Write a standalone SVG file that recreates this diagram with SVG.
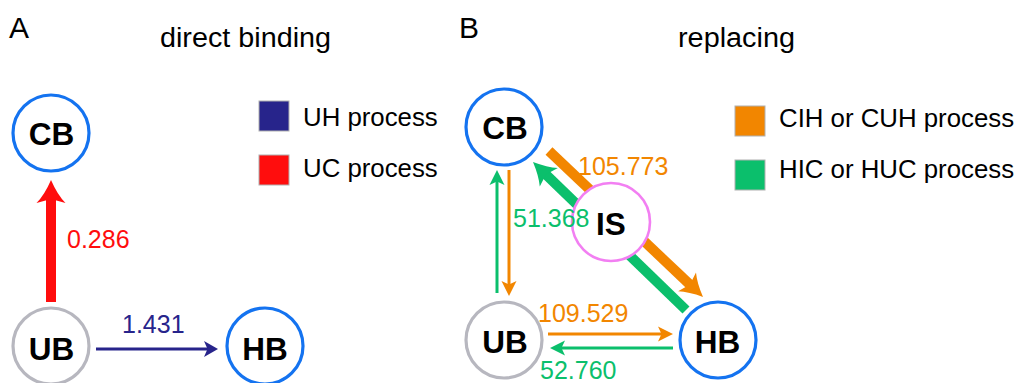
<svg xmlns="http://www.w3.org/2000/svg" width="1019" height="383" viewBox="0 0 1019 383">
<style>
text{font-family:"Liberation Sans",Arial,sans-serif;}
.title{font-size:27px;fill:#000;}
.panel{font-size:30px;fill:#000;}
.node{font-size:31.5px;font-weight:bold;fill:#000;text-anchor:middle;}
.num{font-size:25px;}
.leg{font-size:25.8px;fill:#000;}
.ring{fill:#fff;stroke-width:3.2;}
.blue{stroke:#1473f0;}
.grey{stroke:#b7b7bf;}
.pink{stroke:#f27ff2;stroke-width:2.6;}
.sw{stroke:#b0b0b0;stroke-width:1;}
line{fill:none;}
</style>
<defs>
<marker id="hRed" markerUnits="userSpaceOnUse" markerWidth="23" markerHeight="29" refX="6" refY="14.5" orient="auto" overflow="visible"><path d="M0,0 Q8,8 23,14.5 Q8,21 0,29 L4,14.5 Z" fill="#ff0d0d"/></marker>
<marker id="hNavy" markerUnits="userSpaceOnUse" markerWidth="14" markerHeight="16" refX="5" refY="8" orient="auto" overflow="visible"><path d="M0,0 L14,8 L0,16 L3.5,8 Z" fill="#27248b"/></marker>
<marker id="hOrT" markerUnits="userSpaceOnUse" markerWidth="15" markerHeight="15" refX="5" refY="7.5" orient="auto" overflow="visible"><path d="M0,0 L15,7.5 L0,15 L3.5,7.5 Z" fill="#f28600"/></marker>
<marker id="hGrT" markerUnits="userSpaceOnUse" markerWidth="15" markerHeight="15" refX="5" refY="7.5" orient="auto" overflow="visible"><path d="M0,0 L15,7.5 L0,15 L3.5,7.5 Z" fill="#0bbf6c"/></marker>
<marker id="hOrK" markerUnits="userSpaceOnUse" markerWidth="22" markerHeight="26" refX="6" refY="13" orient="auto" overflow="visible"><path d="M0,0 Q8,7 22,13 Q8,19 0,26 L4,13 Z" fill="#f28600"/></marker>
<marker id="hGrK" markerUnits="userSpaceOnUse" markerWidth="22" markerHeight="26" refX="6" refY="13" orient="auto" overflow="visible"><path d="M0,0 Q8,7 22,13 Q8,19 0,26 L4,13 Z" fill="#0bbf6c"/></marker>
</defs>

<text class="panel" x="9" y="38">A</text>
<text class="title" x="160" y="46.5" textLength="171" lengthAdjust="spacingAndGlyphs">direct binding</text>
<text class="panel" x="459" y="38">B</text>
<text class="title" x="678" y="46.5" textLength="117" lengthAdjust="spacingAndGlyphs">replacing</text>

<g id="connectors">
  <line x1="51" y1="302" x2="51" y2="197" stroke="#ff0d0d" stroke-width="10" marker-end="url(#hRed)"/>
  <line x1="96" y1="349" x2="209" y2="349" stroke="#27248b" stroke-width="3" marker-end="url(#hNavy)"/>
  <line x1="509" y1="170" x2="509" y2="286" stroke="#f28600" stroke-width="3" marker-end="url(#hOrT)"/>
  <line x1="497" y1="293" x2="497" y2="180" stroke="#0bbf6c" stroke-width="3" marker-end="url(#hGrT)"/>
  <line x1="548" y1="334" x2="663" y2="334" stroke="#f28600" stroke-width="3" marker-end="url(#hOrT)"/>
  <line x1="673" y1="348" x2="560" y2="348" stroke="#0bbf6c" stroke-width="3" marker-end="url(#hGrT)"/>
  <line x1="549" y1="151" x2="691.4" y2="286" stroke="#f28600" stroke-width="10" marker-end="url(#hOrK)"/>
  <line x1="686" y1="310" x2="544.5" y2="173.1" stroke="#0bbf6c" stroke-width="10" marker-end="url(#hGrK)"/>
</g>

<g id="CB_A"><circle class="ring blue" cx="51" cy="133" r="38"/><text class="node" x="51.5" y="145">CB</text></g>
<g id="UB_A"><circle class="ring grey" cx="51" cy="346" r="38"/><text class="node" x="51.5" y="360">UB</text></g>
<g id="HB_A"><circle class="ring blue" cx="265" cy="346" r="38"/><text class="node" x="265" y="360">HB</text></g>

<g id="CB_B"><circle class="ring blue" cx="504" cy="127" r="38"/><text class="node" x="505" y="138.5">CB</text></g>
<g id="UB_B"><circle class="ring grey" cx="504" cy="340" r="38"/><text class="node" x="505" y="353">UB</text></g>
<g id="HB_B"><circle class="ring blue" cx="718" cy="340" r="38"/><text class="node" x="717.5" y="353">HB</text></g>
<g id="IS"><circle class="ring pink" cx="611" cy="222" r="39"/><text class="node" x="611" y="235">IS</text></g>

<g id="labels">
  <text class="num" x="67" y="248" fill="#ff0d0d">0.286</text>
  <text class="num" x="122" y="333" fill="#27248b">1.431</text>
  <text class="num" x="578" y="175" fill="#f28600">105.773</text>
  <text class="num" x="513" y="227" fill="#0bbf6c">51.368</text>
  <text class="num" x="538" y="322" fill="#f28600">109.529</text>
  <text class="num" x="540" y="379" fill="#0bbf6c">52.760</text>
</g>

<g id="legendA">
  <rect class="sw" x="259" y="101" width="30" height="30" fill="#27248b"/>
  <text class="leg" x="303" y="126">UH process</text>
  <rect class="sw" x="259" y="155" width="30" height="30" fill="#ff0d0d"/>
  <text class="leg" x="303" y="177">UC process</text>
</g>
<g id="legendB">
  <rect class="sw" x="735" y="106" width="30" height="30" fill="#f28600"/>
  <text class="leg" x="779" y="127">CIH or CUH process</text>
  <rect class="sw" x="735" y="160" width="30" height="30" fill="#0bbf6c"/>
  <text class="leg" x="779" y="177.5">HIC or HUC process</text>
</g>
</svg>
